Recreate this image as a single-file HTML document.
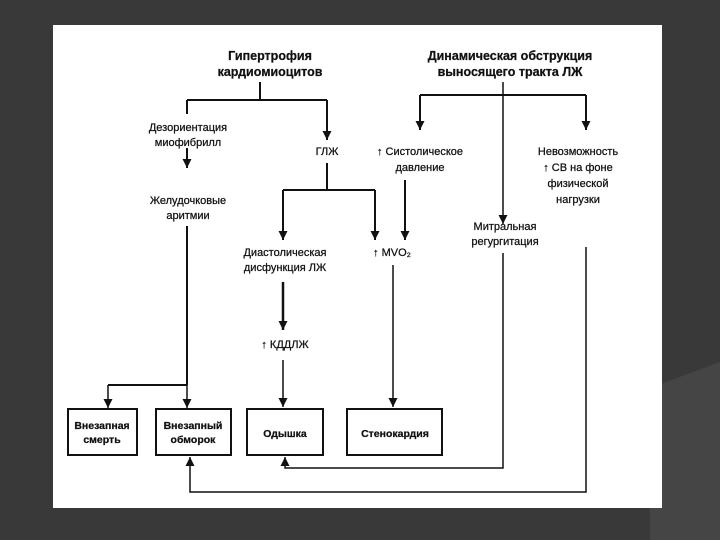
<!DOCTYPE html>
<html><head><meta charset="utf-8"><style>
body{margin:0;width:720px;height:540px;background:#393939;overflow:hidden}
svg{position:absolute;left:0;top:0}
text{font-family:"Liberation Sans",sans-serif;font-size:11px;fill:#111;stroke:#111;stroke-width:0.25px;text-anchor:middle}
.b{font-weight:bold;font-size:12.5px}
.bx{font-weight:bold;font-size:10.5px}
</style></head><body>
<svg width="720" height="540" viewBox="0 0 720 540">
<defs>
<marker id="d" viewBox="0 0 10 10" markerWidth="9" markerHeight="11" refX="10" refY="5" orient="auto" markerUnits="userSpaceOnUse"><path d="M0,0 L10,5 L0,10z" fill="#111"/></marker></defs>
<polygon points="650,388 720,362 720,540 650,540" fill="#454545"/>
<rect x="53" y="25" width="609" height="483" fill="#fff"/>
<g stroke="#111" stroke-width="2" fill="none">
<path d="M260,82V100M187,100H327"/>
<path d="M187,100V114"/>
<path d="M327,100V140" marker-end="url(#d)"/>
<path d="M187,148V168" marker-end="url(#d)"/>
<path d="M187,226V385M108,385H187"/>
<path d="M108,385V408" marker-end="url(#d)" stroke-width="1.5"/>
<path d="M187,385V408" marker-end="url(#d)" stroke-width="1.5"/>
<path d="M327,163V190M283,190H375"/>
<path d="M283,190V240" marker-end="url(#d)"/>
<path d="M375,190V240" marker-end="url(#d)"/>
<path d="M283,282V330" marker-end="url(#d)" stroke-width="2.5"/>
<path d="M283,360V407" marker-end="url(#d)" stroke-width="1.5"/>
<path d="M405,180V240" marker-end="url(#d)"/>
<path d="M393,265V407" marker-end="url(#d)" stroke-width="1.5"/>
<path d="M420,95H586"/>
<path d="M420,95V130" marker-end="url(#d)"/>
<path d="M586,95V130" marker-end="url(#d)"/>
<path d="M503,82V224" marker-end="url(#d)" stroke-width="1.5"/>
<path d="M503,253V468H285V457" marker-end="url(#d)" stroke-width="1.5"/>
<path d="M586,247V492H190V457" marker-end="url(#d)" stroke-width="1.5"/>
<rect x="68" y="409" width="69" height="46"/>
<rect x="156" y="409" width="75" height="46"/>
<rect x="247" y="409" width="76" height="46"/>
<rect x="347" y="409" width="95" height="46"/>
</g>
<text class="b" x="270" y="60">Гипертрофия</text>
<text class="b" x="270" y="76">кардиомиоцитов</text>
<text class="b" x="510" y="60">Динамическая обструкция</text>
<text class="b" x="510" y="76">выносящего тракта ЛЖ</text>
<text x="188" y="131">Дезориентация</text>
<text x="188" y="146">миофибрилл</text>
<text x="327" y="155">ГЛЖ</text>
<text x="420" y="155">↑ Систолическое</text>
<text x="420" y="171">давление</text>
<text x="578" y="155">Невозможность</text>
<text x="578" y="171">↑ СВ на фоне</text>
<text x="578" y="187">физической</text>
<text x="578" y="203">нагрузки</text>
<text x="188" y="204">Желудочковые</text>
<text x="188" y="219">аритмии</text>
<text x="505" y="230">Митральная</text>
<text x="505" y="245">регургитация</text>
<text x="285" y="256">Диастолическая</text>
<text x="285" y="271">дисфункция ЛЖ</text>
<text x="392" y="256">↑ MVO₂</text>
<text x="285" y="348">↑ КДДЛЖ</text>
<text class="bx" x="102" y="429">Внезапная</text>
<text class="bx" x="102" y="443">смерть</text>
<text class="bx" x="193" y="429">Внезапный</text>
<text class="bx" x="193" y="443">обморок</text>
<text class="bx" x="285" y="437">Одышка</text>
<text class="bx" x="395" y="437">Стенокардия</text>
</svg>
</body></html>
